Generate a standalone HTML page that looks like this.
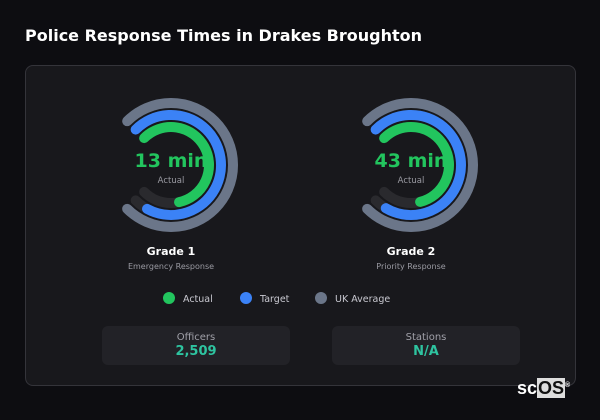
<!DOCTYPE html>
<html><head><meta charset="utf-8"><style>
body{margin:0;width:600px;height:420px;background:#0d0d11;font-family:"DejaVu Sans",sans-serif;overflow:hidden;position:relative}
.title{position:absolute;left:25px;top:26px;color:#fff;font-weight:bold;font-size:16px}
.card{position:absolute;left:25px;top:65px;width:549px;height:319px;background:#18181c;border:1px solid #34343a;border-radius:8px}
.stat{position:absolute;top:326px;width:188px;height:39px;background:#222227;border-radius:6px;text-align:center}
.stat .l{color:#a0a0a8;font-size:10px;margin-top:6px}
.stat .v{color:#2ec4a0;font-weight:bold;font-size:13px;margin-top:1px}
.logo{position:absolute;left:517px;top:378px;color:#fff;font-weight:bold;font-size:18px;font-family:"Liberation Sans",sans-serif}
</style></head><body>
<div class="title">Police Response Times in Drakes Broughton</div>
<div class="card"></div>
<svg id="g" width="600" height="420" style="position:absolute;left:0;top:0"></svg>
<div class="stat" style="left:102px"><div class="l">Officers</div><div class="v">2,509</div></div>
<div class="stat" style="left:332px"><div class="l">Stations</div><div class="v">N/A</div></div>
<div class="logo">sc<span style="background:#ddd;color:#111;padding:0 1px">OS</span><sup style="font-size:7px">®</sup></div>
<script>
const grades=["Grade 1","Grade 2"];
const subtitles=["Emergency Response","Priority Response"];
const actual=[13,43];
const target=[15.5,52];
const ukAvg=[16.5,55];
const maxVal=[16.5,55];
const legendLabels=["Actual","Target","UK Average"];
const NS="http://www.w3.org/2000/svg";
const svg=document.getElementById('g');
function mk(t,a){const e=document.createElementNS(NS,t);for(const k in a)e.setAttribute(k,a[k]);svg.appendChild(e);return e;}
function pt(cx,cy,r,deg){const a=(deg-90)*Math.PI/180;return [cx+r*Math.cos(a),cy+r*Math.sin(a)];}
function arc(cx,cy,r,f){const s=-45,e=s+270*Math.min(f,1);const p0=pt(cx,cy,r,s),p1=pt(cx,cy,r,e);return `M${p0[0]},${p0[1]} A${r},${r} 0 ${e-s>180?1:0} 1 ${p1[0]},${p1[1]}`;}
const cxs=[171,411],cy=165;
grades.forEach((g,i)=>{
 const cx=cxs[i];
 const rings=[[62,ukAvg[i],'#6b7689'],[50,target[i],'#3b82f6'],[38,actual[i],'#22c55e']];
 rings.forEach(([r,v,c],j)=>{
  const t=mk('path',{d:arc(cx,cy,r,1),stroke:'#2a2a2e',"stroke-width":10,fill:'none',"stroke-linecap":'round'});
  
  
  const p=mk('path',{d:arc(cx,cy,r,v/maxVal[i]),stroke:c,"stroke-width":10,fill:'none',"stroke-linecap":'round'});
  
  
 });
 const v=mk('text',{x:cx,y:cy+2,"text-anchor":'middle',fill:'#22c55e',"font-size":19,"font-weight":'bold'});v.textContent=actual[i]+' min';
 
 
 const a=mk('text',{x:cx,y:cy+18,"text-anchor":'middle',fill:'#9a9aa2',"font-size":8.5});a.textContent='Actual';
 
 
 const t=mk('text',{x:cx,y:255,"text-anchor":'middle',fill:'#fff',"font-size":11,"font-weight":'bold'});t.textContent=g;
 
 
 const s=mk('text',{x:cx,y:269,"text-anchor":'middle',fill:'#9a9aa2',"font-size":8});s.textContent=subtitles[i];
 
 
});
const lx=[169,246,321],lc=['#22c55e','#3b82f6','#6b7689'];
legendLabels.forEach((l,i)=>{
 const c=mk('circle',{cx:lx[i],cy:298,r:6,fill:lc[i]});
 
 
 const t=mk('text',{x:lx[i]+14,y:302,fill:'#c8c8d0',"font-size":9.5});t.textContent=l;
 
 
});
</script>
</body></html>
